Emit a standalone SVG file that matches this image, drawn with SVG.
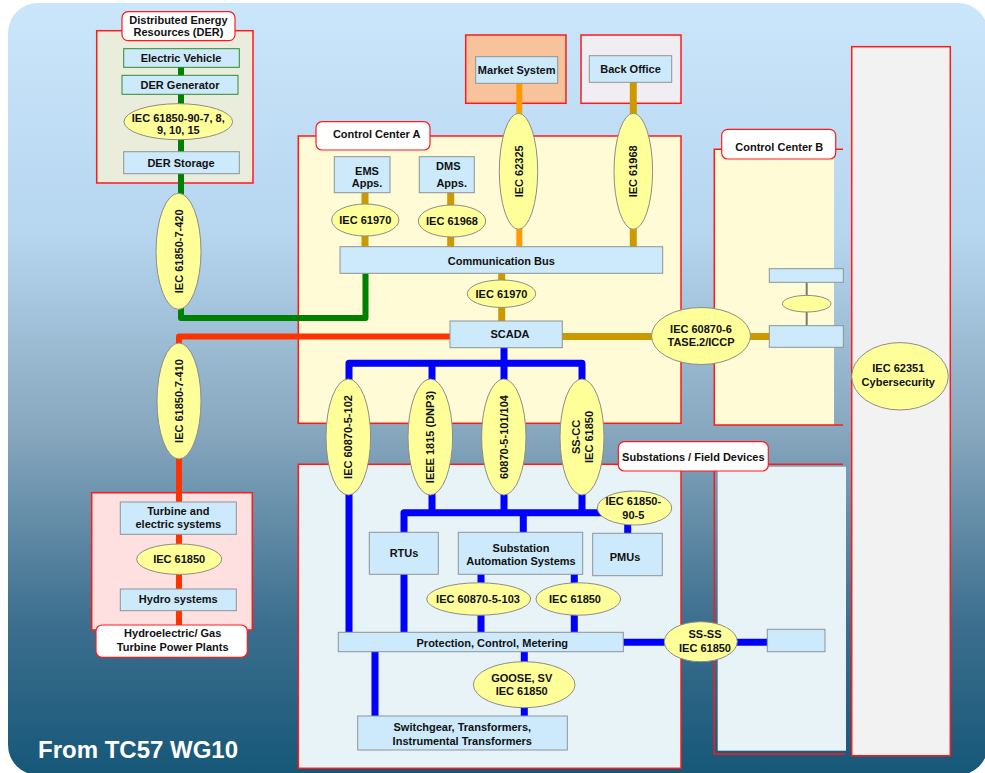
<svg xmlns="http://www.w3.org/2000/svg" width="985" height="773" viewBox="0 0 985 773">
<defs>
<linearGradient id="bg" x1="0" y1="0" x2="0" y2="1">
<stop offset="0" stop-color="#cae6fb"/>
<stop offset="0.3" stop-color="#b6d5ef"/>
<stop offset="0.55" stop-color="#88a8bf"/>
<stop offset="0.8" stop-color="#3d6f8f"/>
<stop offset="1" stop-color="#165778"/>
</linearGradient>
<style>
text{font-family:"Liberation Sans",Arial,sans-serif;font-weight:bold;font-size:11px;fill:#111;text-anchor:middle}
.box{fill:#cceafc;stroke:#8c9498;stroke-width:1}
.ell{fill:#ffff99;stroke:#8c8c8c;stroke-width:1}
.panel{stroke:#ff1a1a;stroke-width:1.5}
.lbl{fill:#fff;stroke:#ff1a1a;stroke-width:1.2}
.ln{fill:none;stroke-linejoin:round;stroke-linecap:butt}
.g{stroke:#008000;stroke-width:6}
.r{stroke:#ff3300;stroke-width:6}
.o{stroke:#ff9900;stroke-width:6}
.y{stroke:#cc9900;stroke-width:7}
.b{stroke:#0000ff;stroke-width:7}
.gr{stroke:#7a7a6a;stroke-width:2}
</style>
</defs>
<rect x="8" y="3" width="980" height="772" rx="30" fill="url(#bg)"/>

<g id="panels">
<rect id="der-panel" class="panel" x="96.7" y="30.7" width="156.3" height="152.3" fill="#eaeddc"/>
<rect id="market-panel" class="panel" x="465.7" y="35" width="100.3" height="68.3" fill="#f8c39b"/>
<rect id="backoffice-panel" class="panel" x="581" y="35" width="100" height="68.3" fill="#f0eef3"/>
<rect id="cca-panel" class="panel" x="298.3" y="136" width="382.7" height="287.3" fill="#fffbd6"/>
<rect x="714.3" y="149.3" width="119.7" height="275.7" fill="#fffbd6"/>
<path id="ccb-panel" class="panel" d="M843,149.3 H714.3 V425 H843" fill="none"/>
<rect id="cyber-panel" class="panel" x="851.7" y="46.7" width="98.6" height="709" fill="#f2f2f2"/>
<rect id="ssa-panel" class="panel" x="298.3" y="464.3" width="382.7" height="304" fill="#e8f3f8"/>
<rect x="717.7" y="466.7" width="128.3" height="284" fill="#e8f3f8"/>
<path id="ssb-panel" class="panel" d="M681,464.3 H843 M714.3,464.3 V754 H845" fill="none"/>
<rect id="hydro-panel" class="panel" x="91.7" y="492.7" width="160.6" height="137.3" fill="#ffe0e0"/>
</g>

<g id="connectors">
<path class="ln g" d="M181,67 V318 H365.5 V273"/>
<path class="ln r" d="M450,336.5 H179 V630"/>
<path class="ln o" d="M519.3,83 V247"/>
<path class="ln y" d="M633.3,82 V247"/>
<path class="ln y" d="M365,192 V247"/>
<path class="ln y" d="M450.7,192 V247"/>
<path class="ln y" d="M501.7,273 V321"/>
<path class="ln y" d="M562,336.5 H770"/>
<path class="ln gr" d="M806.7,282 V326"/>
<path class="ln b" d="M504,347 V363.3 M349,632 V363.3 H582 V512.7 M432,363.3 V512.7 M504,363.3 V512.7"/>
<path class="ln b" d="M404,632 V512.7 H610 M523.3,512.7 V533 M627.7,520 V534"/>
<path class="ln b" d="M481,574 V632 M574.3,574 V632"/>
<path class="ln b" d="M375,651 V716 M524.3,651 V716"/>
<path class="ln b" d="M623,642.3 H768"/>
</g>

<g id="der-label"><rect class="lbl" x="122" y="11.7" width="113" height="29" rx="6"/><text x="178.5" y="23.5">Distributed Energy</text><text x="178.5" y="36">Resources (DER)</text></g>
<g id="electric-vehicle"><rect class="box" x="123.7" y="48.7" width="115.6" height="18.6" style="stroke:#2e8b2e"/><text x="181" y="62">Electric Vehicle</text></g>
<g id="der-generator"><rect class="box" x="122" y="75.3" width="116" height="19" style="stroke:#2e8b2e"/><text x="180" y="89">DER Generator</text></g>
<g id="der-protocol"><ellipse class="ell" cx="178.3" cy="121.7" rx="54.3" ry="18"/><text x="178.3" y="122">IEC 61850-90-7, 8,</text><text x="178.3" y="133.5">9, 10, 15</text></g>
<g id="der-storage"><rect class="box" x="123.7" y="151.7" width="115.6" height="22"/><text x="181" y="166.5">DER Storage</text></g>
<g id="iec-7-420"><ellipse class="ell" cx="178.5" cy="251.3" rx="22.5" ry="58"/><text transform="translate(178.5,251.3) rotate(-90)" y="4">IEC 61850-7-420</text></g>
<g id="iec-7-410"><ellipse class="ell" cx="179" cy="401" rx="22" ry="58"/><text transform="translate(179,401) rotate(-90)" y="4">IEC 61850-7-410</text></g>

<g id="market-system"><rect class="box" x="475.7" y="56.7" width="82" height="26.6"/><text x="516.7" y="74">Market System</text></g>
<g id="back-office"><rect class="box" x="589.3" y="55.7" width="82.4" height="26.6"/><text x="630.5" y="73">Back Office</text></g>
<g id="iec-62325"><ellipse class="ell" cx="518.5" cy="171.3" rx="19.2" ry="58"/><text transform="translate(518.5,171.3) rotate(-90)" y="4">IEC 62325</text></g>
<g id="iec-61968-v"><ellipse class="ell" cx="633.3" cy="171.3" rx="19.3" ry="58"/><text transform="translate(633.3,171.3) rotate(-90)" y="4">IEC 61968</text></g>

<g id="cca-label"><rect class="lbl" x="316" y="121.7" width="114" height="28.3" rx="6"/><text x="376.7" y="137.5">Control Center A</text></g>
<g id="ems-apps"><rect class="box" x="334.3" y="156.7" width="55.7" height="36"/><text x="367" y="174.5">EMS</text><text x="367" y="187">Apps.</text></g>
<g id="dms-apps"><rect class="box" x="419.3" y="156.7" width="55" height="36"/><text x="448.3" y="169.5">DMS</text><text x="451.7" y="187">Apps.</text></g>
<g id="iec-61970-ems"><ellipse class="ell" cx="365.3" cy="220" rx="33.6" ry="16"/><text x="365.3" y="224">IEC 61970</text></g>
<g id="iec-61968-dms"><ellipse class="ell" cx="452" cy="221" rx="33.7" ry="16"/><text x="452" y="225">IEC 61968</text></g>
<g id="comm-bus"><rect class="box" x="340" y="246.7" width="322.7" height="26.6"/><text x="501.3" y="264.5">Communication Bus</text></g>
<g id="iec-61970-bus"><ellipse class="ell" cx="501.5" cy="293.7" rx="34.2" ry="13.7"/><text x="501.5" y="297.5">IEC 61970</text></g>
<g id="scada"><rect class="box" x="450" y="321" width="112.3" height="26.7"/><text x="510" y="338">SCADA</text></g>
<g id="iccp"><ellipse class="ell" cx="701" cy="336" rx="49.5" ry="28.5"/><text x="701" y="333">IEC 60870-6</text><text x="701" y="346">TASE.2/ICCP</text></g>

<g id="ccb-label"><rect class="lbl" x="721.7" y="129.3" width="114" height="29.7" rx="6"/><text x="779.3" y="150.5">Control Center B</text></g>
<g id="ccb-box-top"><rect class="box" x="769.3" y="268.7" width="74" height="13.6"/></g>
<g id="ccb-ellipse"><ellipse class="ell" cx="806.7" cy="303.7" rx="24.3" ry="8.3"/></g>
<g id="ccb-box-bottom"><rect class="box" x="769.3" y="325.7" width="74" height="21.6"/></g>
<g id="cybersecurity"><ellipse class="ell" cx="900" cy="376.3" rx="48.3" ry="33.7"/><text x="898.3" y="372">IEC 62351</text><text x="898.3" y="385.5">Cybersecurity</text></g>

<g id="iec-60870-5-102"><ellipse class="ell" cx="348.3" cy="437" rx="22.3" ry="58"/><text transform="translate(348.3,437) rotate(-90)" y="4">IEC 60870-5-102</text></g>
<g id="ieee-1815"><ellipse class="ell" cx="430.3" cy="437" rx="22.3" ry="58"/><text transform="translate(430.3,437) rotate(-90)" y="4">IEEE 1815 (DNP3)</text></g>
<g id="iec-60870-5-101"><ellipse class="ell" cx="503.8" cy="437" rx="22.2" ry="58"/><text transform="translate(503.8,437) rotate(-90)" y="4">60870-5-101/104</text></g>
<g id="ss-cc"><ellipse class="ell" cx="582" cy="437" rx="22" ry="58"/><text transform="translate(582,437) rotate(-90)" y="-2">SS-CC</text><text transform="translate(582,437) rotate(-90)" y="11">IEC 61850</text></g>

<g id="ss-label"><rect class="lbl" x="618.3" y="441.7" width="150" height="29.3" rx="6"/><text x="693.3" y="460.5">Substations / Field Devices</text></g>
<g id="iec-90-5"><ellipse class="ell" cx="634.5" cy="508" rx="37.2" ry="17"/><text x="633.3" y="505">IEC 61850-</text><text x="633.3" y="518.5">90-5</text></g>
<g id="rtus"><rect class="box" x="369.3" y="532.3" width="69" height="42"/><text x="404" y="557">RTUs</text></g>
<g id="sas"><rect class="box" x="458.3" y="532.3" width="124.4" height="42"/><text x="521" y="552">Substation</text><text x="521" y="564.5">Automation Systems</text></g>
<g id="pmus"><rect class="box" x="592.7" y="533.3" width="69.6" height="42.4"/><text x="625" y="560.5">PMUs</text></g>
<g id="iec-60870-5-103"><ellipse class="ell" cx="478.7" cy="599" rx="52" ry="16.2"/><text x="478" y="603">IEC 60870-5-103</text></g>
<g id="iec-61850-ss"><ellipse class="ell" cx="578.3" cy="599" rx="42.3" ry="16.2"/><text x="575" y="603">IEC 61850</text></g>
<g id="pcm"><rect class="box" x="338.3" y="632.3" width="285" height="19.4"/><text x="492.3" y="646.5">Protection, Control, Metering</text></g>
<g id="goose"><ellipse class="ell" cx="524.2" cy="684.7" rx="50.8" ry="23"/><text x="521.7" y="682">GOOSE, SV</text><text x="521.7" y="694.5">IEC 61850</text></g>
<g id="switchgear"><rect class="box" x="357.7" y="716" width="209.6" height="34"/><text x="462.3" y="730.5">Switchgear, Transformers,</text><text x="462.3" y="745">Instrumental Transformers</text></g>
<g id="ss-ss"><ellipse class="ell" cx="700.8" cy="641.7" rx="36.5" ry="20"/><text x="705" y="638">SS-SS</text><text x="705" y="652">IEC 61850</text></g>
<g id="ssb-box"><rect class="box" x="767.3" y="629.3" width="57.7" height="22.4"/></g>

<g id="turbine"><rect class="box" x="120.3" y="502" width="116" height="32.3"/><text x="178.3" y="515">Turbine and</text><text x="178.3" y="528">electric systems</text></g>
<g id="iec-61850-hydro"><ellipse class="ell" cx="179.2" cy="559.2" rx="42.5" ry="15.2"/><text x="179.2" y="563">IEC 61850</text></g>
<g id="hydro-systems"><rect class="box" x="120.3" y="589" width="116" height="21.7"/><text x="178.3" y="603">Hydro systems</text></g>
<g id="hydro-label"><rect class="lbl" x="96" y="625" width="151.3" height="32.3" rx="6"/><text x="172.7" y="637">Hydroelectric/ Gas</text><text x="172.7" y="651">Turbine Power Plants</text></g>

<text x="38" y="758" style="font-size:24px;fill:#ffffff;text-anchor:start">From TC57 WG10</text>
</svg>
